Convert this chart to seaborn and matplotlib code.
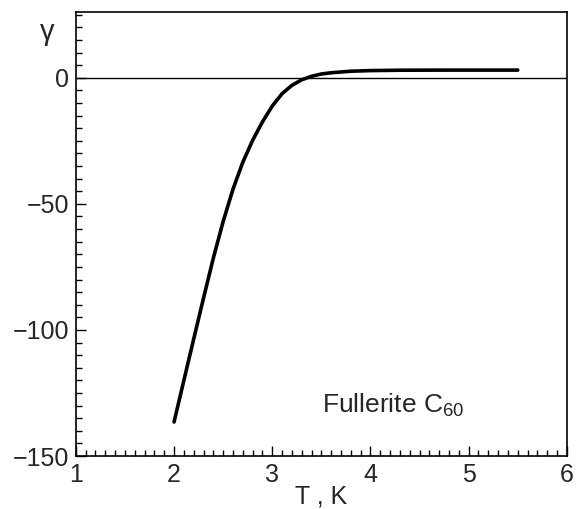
import matplotlib
matplotlib.use("Agg")
import matplotlib.pyplot as plt
import seaborn as sns
import pandas as pd
from matplotlib.ticker import MultipleLocator

temperature = [2.0, 2.1, 2.2, 2.3, 2.4, 2.5, 2.6, 2.7, 2.8, 2.9, 3.0, 3.1,
               3.2, 3.3, 3.4, 3.5, 3.6, 3.8, 4.0, 4.3, 4.8, 5.5]
gamma = [-136.5, -120.0, -103.6, -87.4, -71.5, -57.0, -44.2, -33.5, -24.8,
         -17.5, -11.2, -6.3, -3.0, -0.8, 0.6, 1.5, 2.0, 2.6, 2.85, 3.0,
         3.05, 3.05]
label_text = "Fullerite C$_{60}$"

df = pd.DataFrame({"T": temperature, "gamma": gamma})

sns.set_style("ticks")
plt.rcParams["font.family"] = ["Liberation Sans", "DejaVu Sans"]
plt.rcParams["mathtext.fontset"] = "custom"
plt.rcParams["mathtext.rm"] = "Liberation Sans"

fig = plt.figure(figsize=(5.79, 5.09), dpi=100)
ax = fig.add_axes([0.131, 0.104, 0.848, 0.872])

ax.axhline(0, color="black", lw=1.0)
sns.lineplot(data=df, x="T", y="gamma", color="black", lw=2.6, ax=ax,
             solid_joinstyle="round")

ax.set_xlim(1, 6)
ax.set_ylim(-150, 26)
ax.xaxis.set_major_locator(MultipleLocator(1))
ax.xaxis.set_minor_locator(MultipleLocator(0.1))
ax.yaxis.set_major_locator(MultipleLocator(50))
ax.yaxis.set_minor_locator(MultipleLocator(5))
ax.tick_params(which="both", direction="in", top=False, right=False,
               color="black", width=1)
ax.tick_params(which="major", length=7, labelsize=18, pad=5)
ax.tick_params(which="minor", length=4)
ax.set_yticks([-150, -100, -50, 0])
ax.set_yticklabels(["\u2212150", "\u2212100", "\u221250", "0"])

for s in ax.spines.values():
    s.set_color("black")
    s.set_linewidth(1.2)

ax.set_xlabel("T , K", fontsize=18, labelpad=-2)
ax.set_ylabel("")
ax.text(-0.059, 0.956, "\u03b3", transform=ax.transAxes, fontsize=21,
        ha="center", va="center")
ax.text(4.23, -130, label_text, fontsize=19, ha="center", va="center")

fig.savefig("out.png", dpi=100)
